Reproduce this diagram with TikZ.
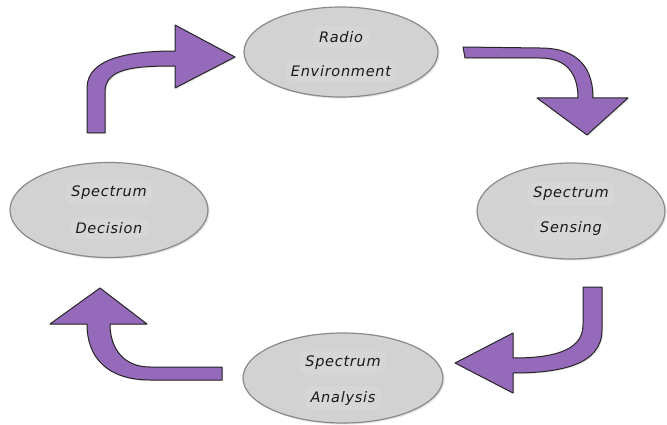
\documentclass[tikz,border=0pt]{standalone}
\usepackage{fontspec}
\usetikzlibrary{shapes.geometric,shadows}
\newfontfamily\wordfont[LetterSpace=5]{DejaVu Sans Oblique}
\definecolor{stagefill}{RGB}{210,210,210}
\definecolor{stageedge}{RGB}{138,138,138}
\definecolor{arrowfill}{RGB}{150,106,186}
\definecolor{inktext}{RGB}{25,25,25}
\tikzset{
  stage/.style={ellipse, draw=stageedge, line width=1.2pt, fill=stagefill,
    inner sep=0pt,
    drop shadow={shadow xshift=1.5pt, shadow yshift=-1.5pt, opacity=0.22}},
  word/.style={font=\wordfont\fontsize{14.5}{16}\selectfont, text=inktext,
    fill=white, fill opacity=0.1, text opacity=1, rounded corners=8pt,
    inner xsep=6pt, inner ysep=5pt},
  bigarrow/.style={fill=arrowfill, draw=black!85, line width=1pt,
    line join=round,
    drop shadow={shadow xshift=1.2pt, shadow yshift=-1.2pt, opacity=0.2}}
}
\begin{document}
\begin{tikzpicture}[x=1pt, y=-1pt]
\useasboundingbox (0,0) rectangle (667,425);

% the four stages of the cycle
\node[stage, minimum width=194, minimum height=90] (env) at (341,52) {};
\node[stage, minimum width=188, minimum height=96] (sens) at (571,211) {};
\node[stage, minimum width=200, minimum height=90] (ana) at (343,378) {};
\node[stage, minimum width=198, minimum height=95] (dec) at (109,210) {};

\node[word] (env1) at ([yshift=15pt]env.center) {Radio};
\node[word] (env2) at ([yshift=-19pt]env.center) {Environment};
\node[word] (sens1) at ([yshift=17pt]sens.center) {Spectrum};
\node[word] (sens2) at ([yshift=-17pt]sens.center) {Sensing};
\node[word] (ana1) at ([yshift=15pt]ana.center) {Spectrum};
\node[word] (ana2) at ([yshift=-20pt]ana.center) {Analysis};
\node[word] (dec1) at ([yshift=17pt]dec.center) {Spectrum};
\node[word] (dec2) at ([yshift=-18pt]dec.center) {Decision};

% curved block arrows between the stages
% decision -> radio environment
\path[bigarrow] (87,133) -- (87,88) .. controls (87,58) and (130,51) .. (175,51)
  -- (175,25) -- (235,57) -- (175,88) -- (175,66)
  .. controls (135,66) and (105,68) .. (105,92) -- (105,133) -- cycle;
% radio environment -> sensing
\path[bigarrow] (463,47) -- (540,48) .. controls (580,48) and (593,70) .. (593,98)
  -- (628,98) -- (587,135) -- (537,98) -- (578,98)
  .. controls (578,72) and (565,58) .. (540,58) -- (465,58) -- cycle;
% sensing -> analysis
\path[bigarrow] (583,287) -- (583,325) .. controls (583,352) and (550,358) .. (513,358)
  -- (513,333) -- (455,363) -- (513,393) -- (513,373)
  .. controls (560,373) and (602,365) .. (602,330) -- (602,287) -- cycle;
% analysis -> decision
\path[bigarrow] (222,380) -- (150,380) .. controls (110,380) and (87,360) .. (87,324)
  -- (50,324) -- (100,288) -- (147,324) -- (110,324)
  .. controls (110,350) and (125,367) .. (150,367) -- (222,367) -- cycle;
\end{tikzpicture}
\end{document}
